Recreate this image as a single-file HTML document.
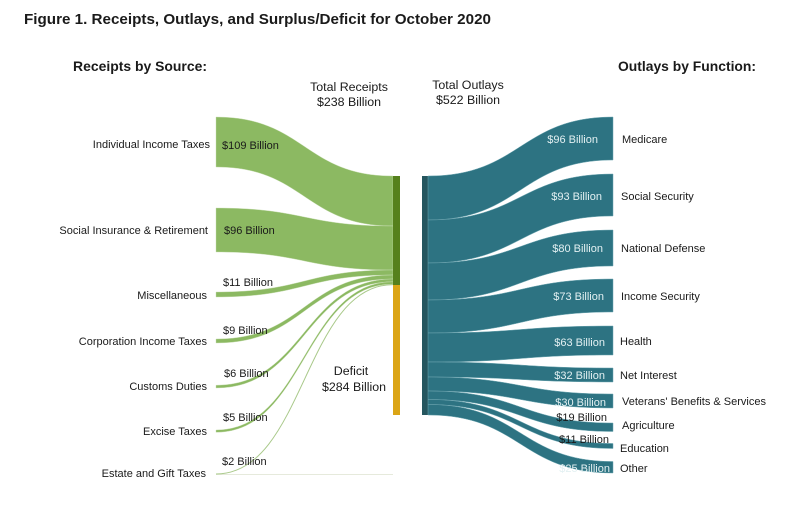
<!DOCTYPE html>
<html>
<head>
<meta charset="utf-8">
<style>
  html,body{margin:0;padding:0;background:#fff;}
  body{width:800px;height:514px;overflow:hidden;}
  svg{display:block;}
  text{font-family:"Liberation Sans",Arial,sans-serif;fill:#1a1a1a;}
</style>
</head>
<body>
<svg width="800" height="514" viewBox="0 0 800 514" xmlns="http://www.w3.org/2000/svg">
  <rect width="800" height="514" fill="#fff"/>

  <!-- Title -->
  <text x="24" y="24" font-size="15" font-weight="bold" textLength="467" lengthAdjust="spacingAndGlyphs">Figure 1. Receipts, Outlays, and Surplus/Deficit for October 2020</text>
  <text x="73" y="71" font-size="14" font-weight="bold" textLength="134" lengthAdjust="spacingAndGlyphs">Receipts by Source:</text>
  <text x="618" y="71" font-size="14" font-weight="bold" textLength="138" lengthAdjust="spacingAndGlyphs">Outlays by Function:</text>

  <text x="349" y="91" font-size="12.4" text-anchor="middle">Total Receipts</text>
  <text x="349" y="106" font-size="12.4" text-anchor="middle">$238 Billion</text>
  <text x="468" y="89" font-size="12.4" text-anchor="middle">Total Outlays</text>
  <text x="468" y="104" font-size="12.4" text-anchor="middle">$522 Billion</text>

  <!-- faint baseline -->
  <line x1="216" y1="474.5" x2="393" y2="474.5" stroke="#e6eadc" stroke-width="1"/>

  <!-- Left flows (green) -->
  <g fill="#8cb962" stroke="#c9deb4" stroke-width="0.4">
    <path d="M216 117 C304.5 117 304.5 176 393 176 L393 226 C304.5 226 304.5 167 216 167 Z"/>
    <path d="M216 208 C304.5 208 304.5 226 393 226 L393 270 C304.5 270 304.5 252 216 252 Z"/>
    <path d="M216 292 C304.5 292 304.5 270 393 270 L393 275 C304.5 275 304.5 297 216 297 Z"/>
    <path d="M216 339 C304.5 339 304.5 275 393 275 L393 279 C304.5 279 304.5 343 216 343 Z"/>
    <path d="M216 385.2 C304.5 385.2 304.5 279 393 279 L393 281.8 C304.5 281.8 304.5 388 216 388 Z"/>
    <path d="M216 430 C304.5 430 304.5 281.8 393 281.8 L393 284.1 C304.5 284.1 304.5 432.3 216 432.3 Z"/>
  </g>
  <path d="M216 474 C304.5 474 304.5 284.6 393 284.6" fill="none" stroke="#a9c98a" stroke-width="1"/>

  <!-- Center bars -->
  <rect x="393" y="176" width="7" height="109" fill="#55801c"/>
  <rect x="393" y="285" width="7" height="130" fill="#dba516"/>
  <rect x="422" y="176" width="6" height="239" fill="#25565f"/>

  <!-- Right flows (teal) -->
  <g fill="#2d7382" stroke="#6ea6b1" stroke-width="0.5">
    <path d="M428 176 C520.5 176 520.5 117 613 117 L613 160 C520.5 160 520.5 220 428 220 Z"/>
    <path d="M428 220 C520.5 220 520.5 174 613 174 L613 216 C520.5 216 520.5 263 428 263 Z"/>
    <path d="M428 263 C520.5 263 520.5 230 613 230 L613 266 C520.5 266 520.5 300 428 300 Z"/>
    <path d="M428 300 C520.5 300 520.5 279 613 279 L613 312 C520.5 312 520.5 333 428 333 Z"/>
    <path d="M428 333 C520.5 333 520.5 326 613 326 L613 355 C520.5 355 520.5 362 428 362 Z"/>
    <path d="M428 362 C520.5 362 520.5 368 613 368 L613 382 C520.5 382 520.5 377 428 377 Z"/>
    <path d="M428 377 C520.5 377 520.5 394 613 394 L613 408 C520.5 408 520.5 391 428 391 Z"/>
    <path d="M428 391 C520.5 391 520.5 423 613 423 L613 431.5 C520.5 431.5 520.5 399.5 428 399.5 Z"/>
    <path d="M428 399.5 C520.5 399.5 520.5 443.5 613 443.5 L613 448.5 C520.5 448.5 520.5 404.5 428 404.5 Z"/>
    <path d="M428 404.5 C520.5 404.5 520.5 461.5 613 461.5 L613 473 C520.5 473 520.5 415 428 415 Z"/>
  </g>

  <!-- Left category labels -->
  <g font-size="11" text-anchor="end">
    <text x="210" y="148">Individual Income Taxes</text>
    <text x="208" y="234">Social Insurance &amp; Retirement</text>
    <text x="207" y="299">Miscellaneous</text>
    <text x="207" y="345">Corporation Income Taxes</text>
    <text x="207" y="390">Customs Duties</text>
    <text x="207" y="435">Excise Taxes</text>
    <text x="206" y="477">Estate and Gift Taxes</text>
  </g>

  <!-- Left value labels -->
  <g font-size="11">
    <text x="222" y="149">$109 Billion</text>
    <text x="224" y="234">$96 Billion</text>
    <text x="223" y="286">$11 Billion</text>
    <text x="223" y="334">$9 Billion</text>
    <text x="224" y="377">$6 Billion</text>
    <text x="223" y="421">$5 Billion</text>
    <text x="222" y="465">$2 Billion</text>
  </g>

  <!-- Deficit label -->
  <text x="351" y="375" font-size="12.4" text-anchor="middle">Deficit</text>
  <text x="354" y="391" font-size="12.4" text-anchor="middle">$284 Billion</text>

  <!-- Right value labels -->
  <g font-size="11" text-anchor="end">
    <text x="598" y="143" style="fill:#e3f0f2">$96 Billion</text>
    <text x="602" y="200" style="fill:#e3f0f2">$93 Billion</text>
    <text x="603" y="252" style="fill:#e3f0f2">$80 Billion</text>
    <text x="604" y="300" style="fill:#e3f0f2">$73 Billion</text>
    <text x="605" y="346" style="fill:#e3f0f2">$63 Billion</text>
    <text x="605" y="379" style="fill:#e3f0f2">$32 Billion</text>
    <text x="606" y="406" style="fill:#e3f0f2">$30 Billion</text>
    <text x="607" y="421">$19 Billion</text>
    <text x="609" y="443">$11 Billion</text>
    <text x="610" y="472" style="fill:#e3f0f2">$25 Billion</text>
  </g>

  <!-- Right category labels -->
  <g font-size="11">
    <text x="622" y="143">Medicare</text>
    <text x="621" y="200">Social Security</text>
    <text x="621" y="252">National Defense</text>
    <text x="621" y="300">Income Security</text>
    <text x="620" y="345">Health</text>
    <text x="620" y="379">Net Interest</text>
    <text x="622" y="405">Veterans' Benefits &amp; Services</text>
    <text x="622" y="429">Agriculture</text>
    <text x="620" y="452">Education</text>
    <text x="620" y="472">Other</text>
  </g>
</svg>
</body>
</html>
